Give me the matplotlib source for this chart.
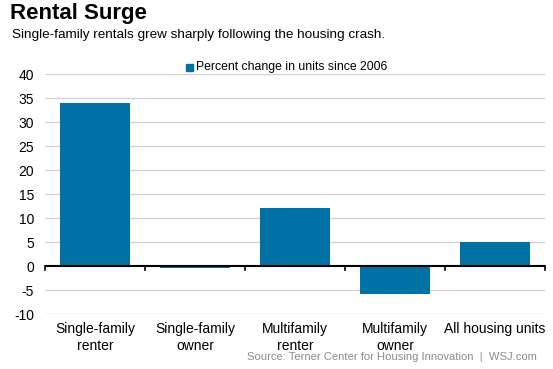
import matplotlib
matplotlib.use("Agg")
import matplotlib.pyplot as plt
from matplotlib.patches import Rectangle

categories = ["Single-family\nrenter", "Single-family\nowner", "Multifamily\nrenter", "Multifamily\nowner", "All housing units"]
values = [34, -0.4, 12, -5.9, 5]
yticks = [-10, -5, 0, 5, 10, 15, 20, 25, 30, 35, 40]
series_name = "Percent change in units since 2006"

plt.rcParams['font.family'] = ['Liberation Sans', 'DejaVu Sans']
color = "#0071a4"

fig = plt.figure(figsize=(5.53, 3.69), dpi=100)
ax = fig.add_axes([45/553, 1-314/369, 500/553, 240/369])

x = list(range(len(categories)))
ax.bar(x, values, width=0.7, color=color, zorder=3)
ax.set_xlim(-0.5, len(categories)-0.5)
ax.set_ylim(-10, 40)
ax.set_yticks(yticks)
ax.set_yticklabels([str(t) for t in yticks], fontsize=10)
for t in yticks:
    if t != 0:
        ax.axhline(t, color="#d4d4d4", lw=1, zorder=1)
ax.axhline(0, color="black", lw=1.5, zorder=4)
for b in [i - 0.5 for i in range(len(categories)+1)]:
    ax.plot([b, b], [0, -0.9], color="black", lw=1.2, zorder=4, clip_on=False)
ax.tick_params(axis='y', length=0, pad=8)
ax.tick_params(axis='x', length=0, pad=6)
ax.set_xticks(x)
ax.set_xticklabels(categories, fontsize=10, linespacing=1.25)
for s in ax.spines.values():
    s.set_visible(False)

fig.text(10/553, 1-13/369, "Rental Surge", fontsize=16, fontweight='bold', va='center', ha='left')
fig.text(12/553, 1-35/369, "Single-family rentals grew sharply following the housing crash.", fontsize=9.7, va='center', ha='left')
fig.patches.append(Rectangle((186/553, 1-71/369), 7/553, 7/369, transform=fig.transFigure, color=color, figure=fig))
fig.text(196/553, 1-67/369, series_name, fontsize=8.8, va='center', ha='left')
fig.text(537/553, 1-357/369, "Source: Terner Center for Housing Innovation  |  WSJ.com", fontsize=8.1, color="#8c8c8c", va='center', ha='right')

fig.savefig("out.png", dpi=100)
